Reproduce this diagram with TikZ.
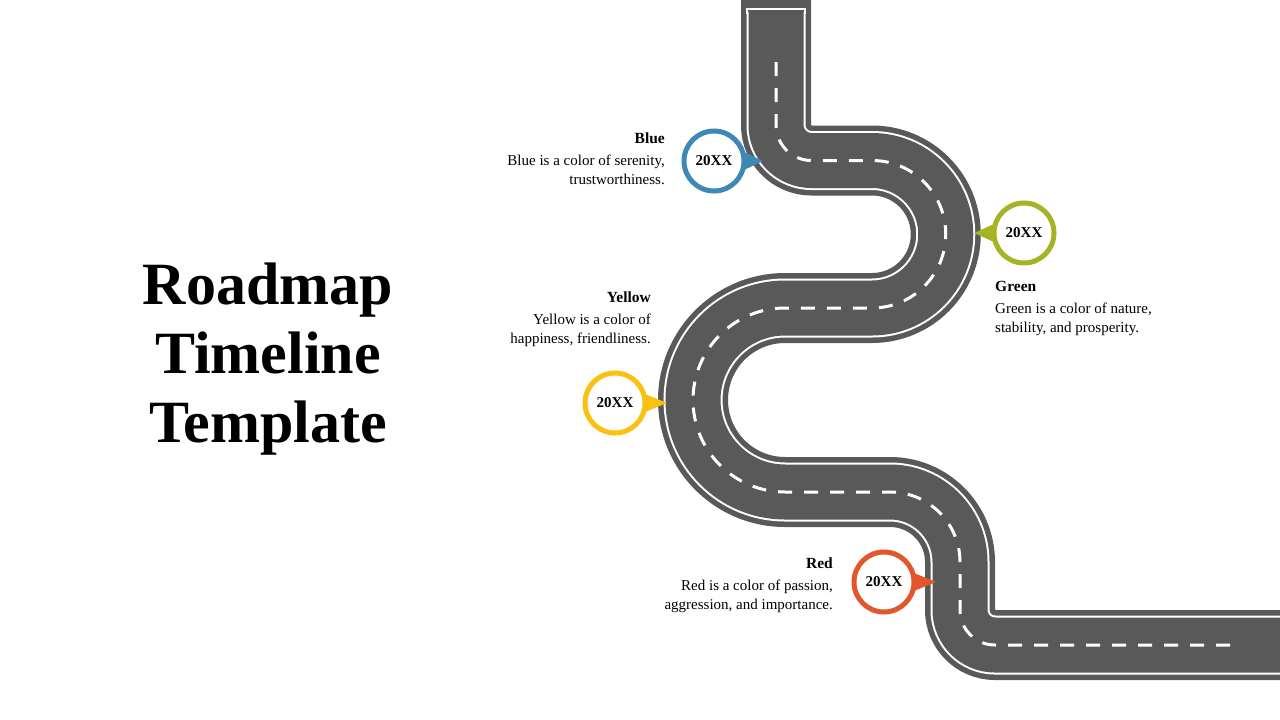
\documentclass[tikz,border=0pt]{standalone}
\usepackage{fontspec}
\setmainfont{Liberation Serif}
\begin{document}
\begin{tikzpicture}[x=1pt,y=-1pt,
  marker/.style={circle,draw=#1,line width=5pt,fill=white,minimum size=60pt,inner sep=0pt,font=\bfseries\fontsize{15}{15}\selectfont},
  ttl/.style={font=\bfseries\fontsize{15.5}{18}\selectfont,inner sep=0pt},
  dsc/.style={font=\fontsize{15}{19}\selectfont,inner sep=0pt}]
\definecolor{road}{HTML}{595959}
\definecolor{cblue}{HTML}{3E88B5}
\definecolor{cgreen}{HTML}{A5B425}
\definecolor{cyellow}{HTML}{FCC010}
\definecolor{cred}{HTML}{E1562A}
\useasboundingbox (0,0) rectangle (1280,720);
\fill[white] (0,0) rectangle (1280,720);
\def\rdmid{(776,125) arc[start angle=180,end angle=90,radius=35.5] -- (872,160.5)
  arc[start angle=-90,end angle=90,radius=73.75] -- (785,308)
  arc[start angle=270,end angle=90,radius=92] -- (890,492)
  arc[start angle=270,end angle=360,radius=70] -- (960,610)
  arc[start angle=180,end angle=90,radius=35]}
\draw[road,line width=70pt] (776,-10) -- \rdmid -- (1290,645);
\draw[white,line width=59pt] (776,-10) -- \rdmid -- (1290,645);
\draw[road,line width=55pt] (776,-10) -- \rdmid -- (1290,645);
\fill[road] (741,0) rectangle (811,12);
\draw[white,line width=1.3pt] (747,14) -- (747,9) -- (805,9) -- (805,14);
\draw[white,line width=3pt,dash pattern=on 14pt off 12pt] (776,62) -- \rdmid -- (1230,645);
% markers
\fill[cblue] (744,152) -- (763,161) -- (744,170) -- cycle;
\node[marker=cblue] (b) at (714,161) {20XX};
\fill[cgreen] (994,224) -- (974,233) -- (994,242) -- cycle;
\node[marker=cgreen] (g) at (1024,233) {20XX};
\fill[cyellow] (645,394) -- (667,403) -- (645,412) -- cycle;
\node[marker=cyellow] (y) at (615,403) {20XX};
\fill[cred] (914,573) -- (936,582) -- (914,591) -- cycle;
\node[marker=cred] (r) at (884,582) {20XX};
% texts
\node[ttl,anchor=east] (bt) at (665,138) {Blue};
\node[dsc,anchor=north east,align=right] (bd) at (665,155) {Blue is a color of serenity,\\trustworthiness.};
\node[ttl,anchor=west] (gt) at (995,286) {Green};
\node[dsc,anchor=north west,align=left] (gd) at (995,303) {Green is a color of nature,\\stability, and prosperity.};
\node[ttl,anchor=east] (yt) at (651,297) {Yellow};
\node[dsc,anchor=north east,align=right] (yd) at (651,314) {Yellow is a color of\\happiness, friendliness.};
\node[ttl,anchor=east] (rt) at (833,563) {Red};
\node[dsc,anchor=north east,align=right] (rd) at (833,580) {Red is a color of passion,\\aggression, and importance.};
\node[font=\bfseries\fontsize{60}{69}\selectfont,align=center] (title) at (268,359) {Roadmap\\Timeline\\Template};
\end{tikzpicture}
\end{document}
